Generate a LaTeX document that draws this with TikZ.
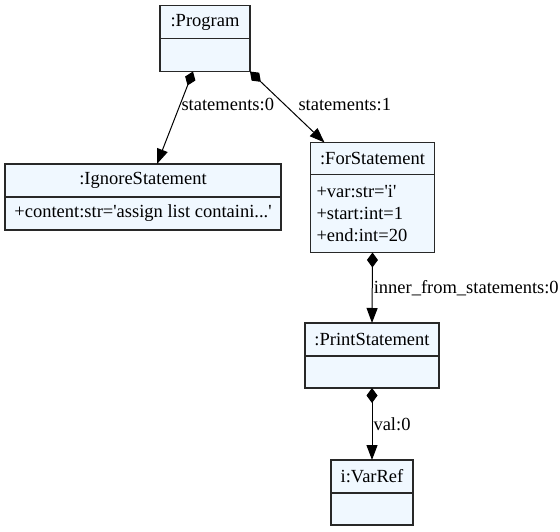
\documentclass[tikz,border=0pt]{standalone}
\usepackage{fontspec}
\setmainfont{Liberation Serif}
\usetikzlibrary{arrows.meta,positioning}
\definecolor{classfill}{RGB}{240,248,255}
\definecolor{classline}{RGB}{40,40,40}
\newcommand{\sq}{\textquotesingle}
\tikzset{
  classhead/.style={rectangle, draw=classline, line width=1.2pt, fill=classfill,
                    minimum height=33pt, inner sep=0pt, outer sep=0pt, anchor=north,
                    font=\fontsize{18.5}{22}\selectfont},
  classbody/.style={classhead, minimum height=33pt},
  compose/.style={{Diamond[length=15pt,width=11pt]}-{Triangle[length=15pt,width=11pt]},
                  line width=1pt, black},
  edgelabel/.style={anchor=west, inner sep=1pt, font=\fontsize{18.5}{22}\selectfont},
}
\begin{document}
\begin{tikzpicture}[x=1pt,y=1pt]
\useasboundingbox (0,0) rectangle (560,531);
% objects
\node[classhead, minimum width=90pt] at (205,525.5) (progh) {:Program};
\node[classbody, minimum width=90pt, below=0pt of progh] (progb) {};
\node[classhead, minimum width=276pt] at (143,367) (ignh) {:IgnoreStatement};
\node[classbody, minimum width=276pt, below=0pt of ignh] (ignb) {+content:str=\sq assign list containi...\sq};
\node[classhead, minimum width=124pt, minimum height=32pt] at (372.5,388.5) (forh) {:ForStatement};
\node[classbody, minimum width=124pt, minimum height=78pt, text width=112pt, align=left,
      below=0pt of forh] (forb) {+var:str=\sq i\sq\\+start:int=1\\+end:int=20};
\node[classhead, minimum width=134pt] at (372,208) (printh) {:PrintStatement};
\node[classbody, minimum width=134pt, minimum height=32pt, below=0pt of printh] (printb) {};
\node[classhead, minimum width=82pt] at (372,71) (varh) {i:VarRef};
\node[classbody, minimum width=82pt, minimum height=32pt, below=0pt of varh] (varb) {};
% composition links
\draw[compose] ([xshift=-12pt]progb.south) -- node[edgelabel, pos=0.36] {statements:0} ([xshift=14pt]ignh.north);
\draw[compose] (progb.south east) -- node[edgelabel, pos=0.47, xshift=12pt] {statements:1} ([xshift=14pt]forh.north west);
\foreach \a/\b/\l in {forb/printh/inner\_from\_statements:0, printb/varh/val:0}
  \draw[compose] (\a.south) -- node[edgelabel, pos=0.5] {\l} (\b.north);
\end{tikzpicture}
\end{document}
